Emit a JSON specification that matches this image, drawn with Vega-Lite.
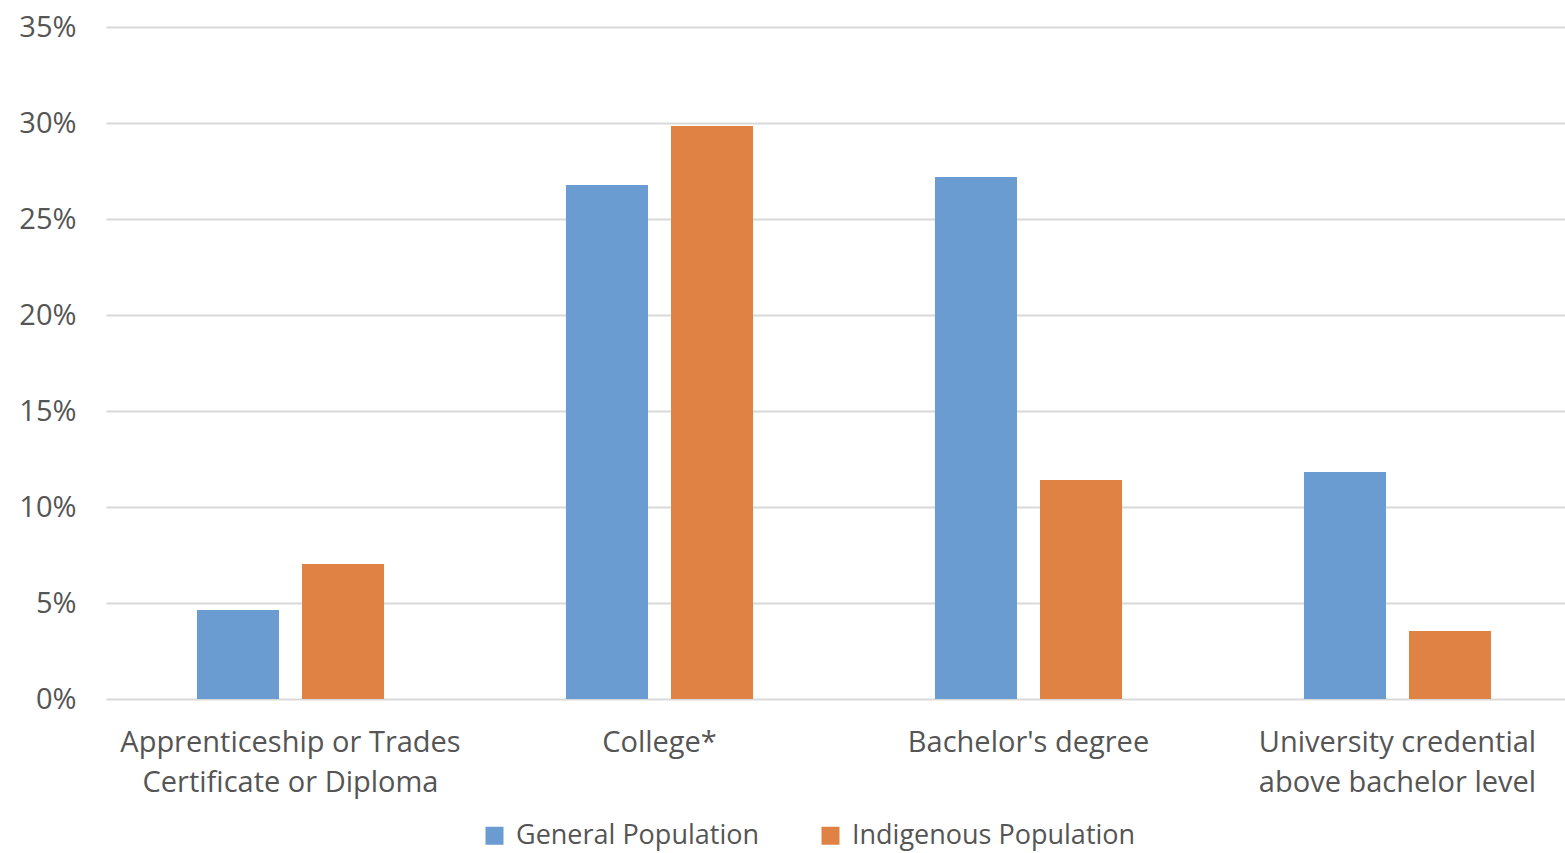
{
  "$schema": "https://vega.github.io/schema/vega-lite/v6.json",
  "width": 1459,
  "height": 672,
  "autosize": "none",
  "padding": {"left": 106, "top": 27, "right": 0, "bottom": 154},
  "background": "white",
  "config": {
    "view": {"stroke": null},
    "font": "Open Sans",
    "axis": {"labelFont": "Open Sans", "labelColor": "#555555"},
    "legend": {"labelFont": "Open Sans", "labelColor": "#555555"}
  },
  "data": {
    "values": [
      {"category": "Apprenticeship or Trades Certificate or Diploma", "population": "General Population", "share": 0.0464},
      {"category": "Apprenticeship or Trades Certificate or Diploma", "population": "Indigenous Population", "share": 0.0703},
      {"category": "College*", "population": "General Population", "share": 0.2677},
      {"category": "College*", "population": "Indigenous Population", "share": 0.2984},
      {"category": "Bachelor's degree", "population": "General Population", "share": 0.2719},
      {"category": "Bachelor's degree", "population": "Indigenous Population", "share": 0.1141},
      {"category": "University credential above bachelor level", "population": "General Population", "share": 0.1182},
      {"category": "University credential above bachelor level", "population": "Indigenous Population", "share": 0.0354}
    ]
  },
  "mark": {"type": "bar"},
  "encoding": {
    "x": {
      "field": "category",
      "type": "nominal",
      "sort": null,
      "scale": {"range": [0, 1476], "paddingInner": 0.493, "paddingOuter": 0.2465},
      "axis": {
        "title": null,
        "labelAngle": 0,
        "domain": false,
        "ticks": false,
        "labelFontSize": 29,
        "labelPadding": 29,
        "labelLineHeight": 40,
        "labelLimit": 0,
        "labelExpr": "datum.label == 'Apprenticeship or Trades Certificate or Diploma' ? ['Apprenticeship or Trades', 'Certificate or Diploma'] : datum.label == 'University credential above bachelor level' ? ['University credential', 'above bachelor level'] : datum.label"
      }
    },
    "xOffset": {
      "field": "population",
      "type": "nominal",
      "scale": {"paddingInner": 0.219, "paddingOuter": 0}
    },
    "y": {
      "field": "share",
      "type": "quantitative",
      "scale": {"domain": [0, 0.35], "nice": false},
      "axis": {
        "title": null,
        "format": ".0%",
        "values": [0, 0.05, 0.1, 0.15, 0.2, 0.25, 0.3, 0.35],
        "domain": false,
        "ticks": false,
        "labelFontSize": 29,
        "labelPadding": 30,
        "gridColor": "#d9d9d9",
        "gridWidth": 2
      }
    },
    "color": {
      "field": "population",
      "type": "nominal",
      "scale": {"domain": ["General Population", "Indigenous Population"], "range": ["#6A9BD1", "#E08244"]},
      "legend": {
        "title": null,
        "orient": "none",
        "direction": "horizontal",
        "legendX": 375,
        "legendY": 795,
        "symbolType": "square",
        "symbolSize": 324,
        "symbolStrokeWidth": 0,
        "labelFontSize": 27,
        "labelLimit": 0,
        "columnPadding": 58,
        "labelOffset": 8
      }
    }
  }
}
